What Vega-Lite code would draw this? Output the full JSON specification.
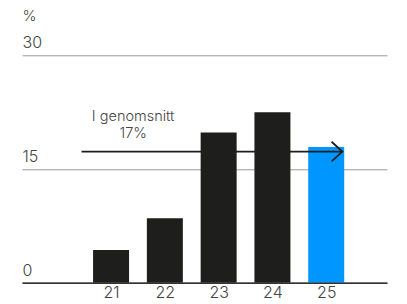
{
  "$schema": "https://vega.github.io/schema/vega-lite/v6.json",
  "width": 365,
  "height": 227.4,
  "autosize": {"type": "none"},
  "padding": {"left": 22, "top": 55.3, "right": 20, "bottom": 21.3},
  "config": {
    "view": {"stroke": null},
    "font": "Inter",
    "axis": {"labelFont": "Inter", "titleFont": "Inter"}
  },
  "datasets": {
    "bars": [
      {"year": 21, "value": 4.3},
      {"year": 22, "value": 8.5},
      {"year": 23, "value": 19.8},
      {"year": 24, "value": 22.5},
      {"year": 25, "value": 17.9}
    ],
    "avg": [{"x": 20.45, "x2": 25.3, "y": 17.3}],
    "label": [{"x": 21.41, "y": 21.3, "t": ["I genomsnitt", "17%"]}]
  },
  "layer": [
    {
      "data": {"name": "bars"},
      "mark": {"type": "bar", "width": 36},
      "encoding": {
        "x": {
          "field": "year", "type": "quantitative",
          "scale": {"domain": [19.344, 26.13], "nice": false, "zero": false, "padding": 0},
          "axis": {
            "values": [21, 22, 23, 24, 25], "format": "d", "title": null,
            "grid": false, "ticks": false, "tickSize": 0,
            "labelFontSize": 16, "labelFontWeight": 300, "labelColor": "#444", "labelPadding": 15.2, "labelBaseline": "alphabetic",
            "domainColor": "#333", "domainWidth": 1.5, "zindex": 1
          }
        },
        "y": {
          "field": "value", "type": "quantitative",
          "scale": {"domain": [0, 30], "nice": false, "padding": 0},
          "axis": {
            "values": [0, 15, 30], "title": "%", "titleAngle": 0, "titleAlign": "left",
            "titleBaseline": "alphabetic", "titleX": 0, "titleY": -35, "titleFontSize": 15,
            "titleFontWeight": 300, "titleColor": "#444",
            "grid": true, "gridColor": "#999", "gridWidth": 1,
            "ticks": false, "tickSize": 0, "domain": false,
            "labelAlign": "left", "labelBaseline": "alphabetic", "labelPadding": 0,
            "labelOffset": -7.5, "labelFontSize": 16, "labelFontWeight": 300, "labelColor": "#444"
          }
        },
        "color": {
          "condition": {"test": "datum.year == 25", "value": "#0096ff"},
          "value": "#1e1e1d"
        }
      }
    },
    {
      "data": {"name": "avg"},
      "mark": {"type": "rule", "strokeWidth": 1.8, "color": "#1e1e1d"},
      "encoding": {
        "x": {"field": "x", "type": "quantitative"},
        "x2": {"field": "x2"},
        "y": {"field": "y", "type": "quantitative"}
      }
    },
    {
      "data": {"name": "avg"},
      "mark": {"type": "point", "shape": "M-1.1,-1L0,0L-1.1,1", "filled": false, "size": 384, "strokeWidth": 1.8, "color": "#1e1e1d", "opacity": 1},
      "encoding": {
        "x": {"field": "x2", "type": "quantitative"},
        "y": {"field": "y", "type": "quantitative"}
      }
    },
    {
      "data": {"name": "label"},
      "mark": {"type": "text", "fontSize": 14.5, "fontWeight": 300, "lineHeight": 16.5, "color": "#444", "align": "center", "baseline": "alphabetic"},
      "encoding": {
        "x": {"field": "x", "type": "quantitative"},
        "y": {"field": "y", "type": "quantitative"},
        "text": {"field": "t"}
      }
    }
  ]
}
